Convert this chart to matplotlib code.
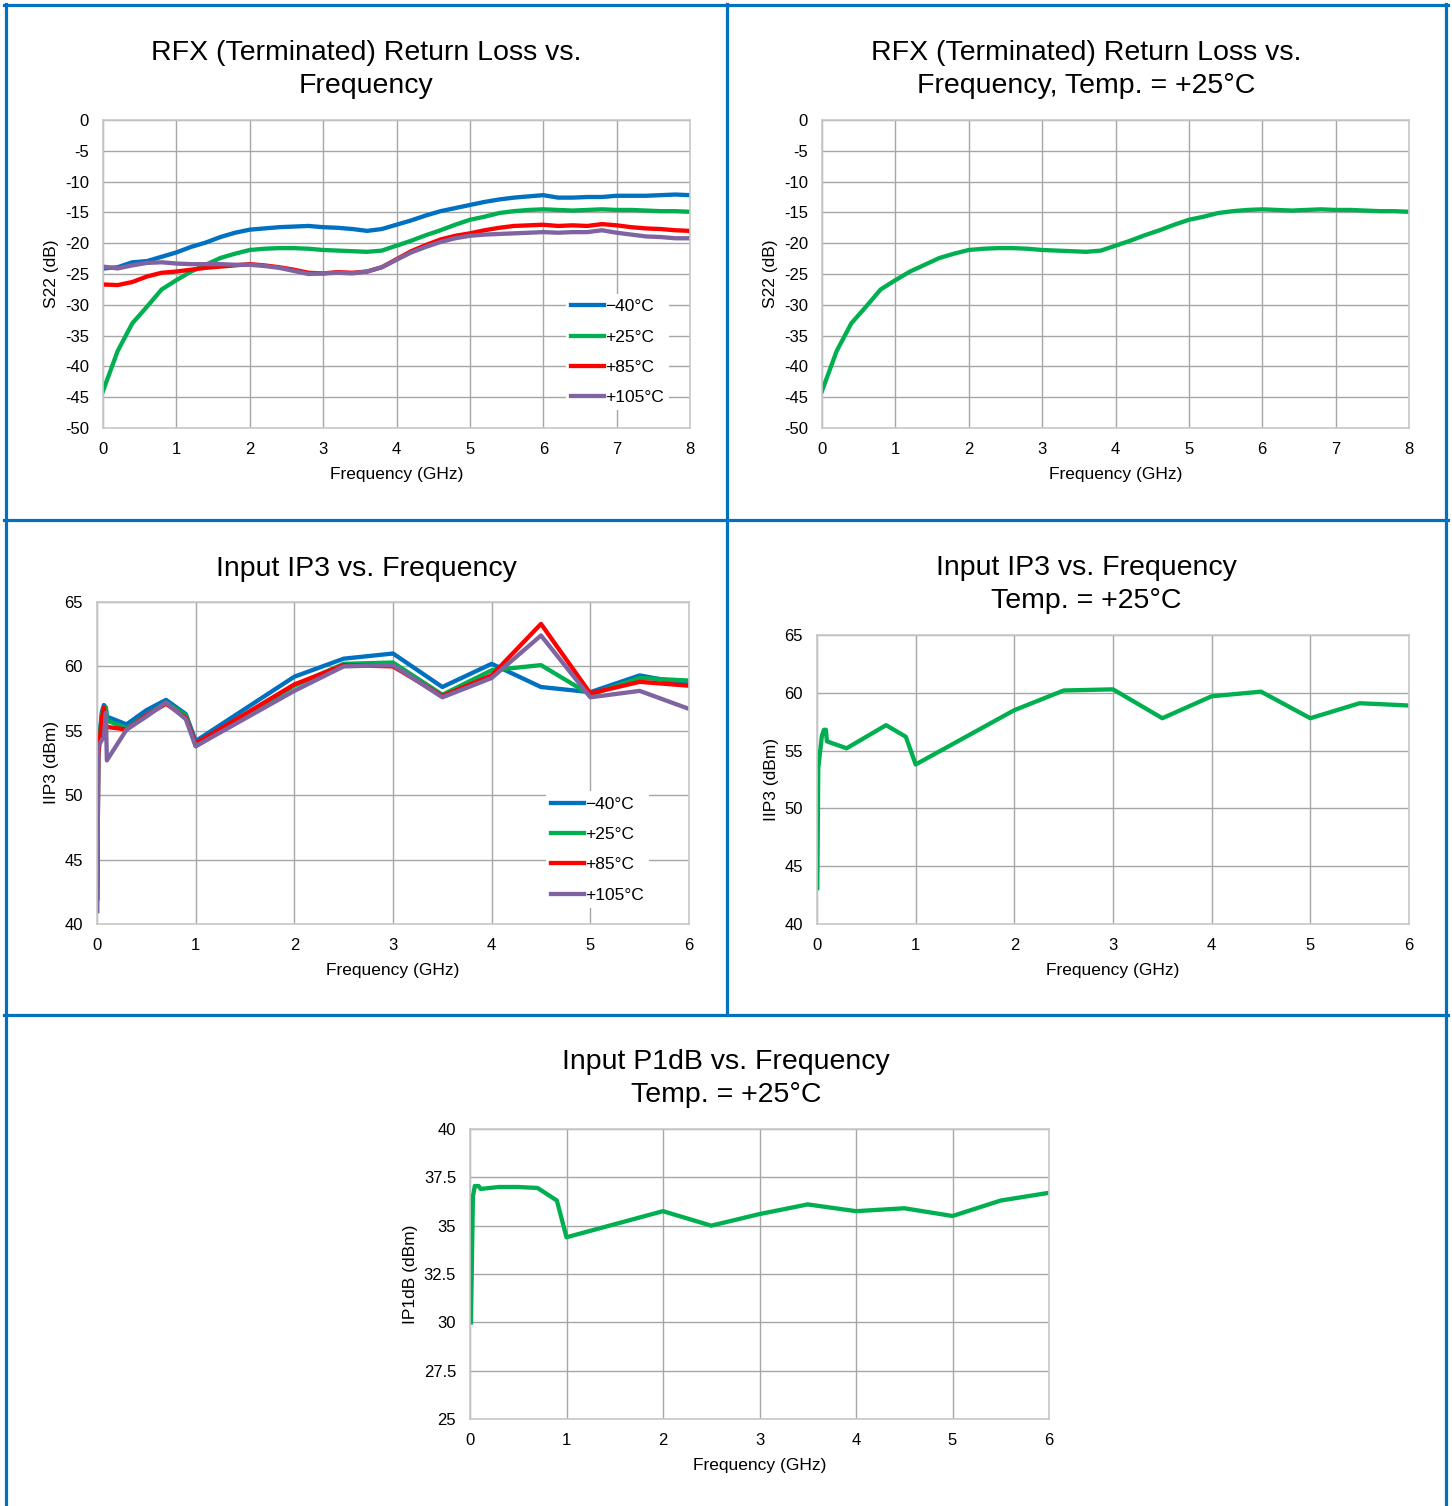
import matplotlib.pyplot as plt
from matplotlib.lines import Line2D

plt.rcParams['font.family'] = ['Liberation Sans', 'DejaVu Sans']

# ---- S22 return loss data (GHz, dB) ----
s22_freq = [0.0, 0.2, 0.4, 0.6, 0.8, 1.0, 1.2, 1.4, 1.6, 1.8, 2.0, 2.2, 2.4, 2.6, 2.8,
            3.0, 3.2, 3.4, 3.6, 3.8, 4.0, 4.2, 4.4, 4.6, 4.8, 5.0, 5.2, 5.4, 5.6, 5.8,
            6.0, 6.2, 6.4, 6.6, 6.8, 7.0, 7.2, 7.4, 7.6, 7.8, 8.0]
s22_m40 = [-24.1, -23.9, -23.1, -22.9, -22.2, -21.5, -20.6, -19.9, -19.0, -18.3, -17.8,
           -17.6, -17.4, -17.3, -17.2, -17.4, -17.5, -17.7, -18.0, -17.7, -17.0, -16.3,
           -15.5, -14.8, -14.3, -13.8, -13.3, -12.9, -12.6, -12.4, -12.2, -12.6, -12.6,
           -12.5, -12.5, -12.3, -12.3, -12.3, -12.2, -12.1, -12.2]
s22_p25 = [-44.0, -37.5, -33.0, -30.3, -27.5, -26.0, -24.6, -23.5, -22.4, -21.7, -21.1,
           -20.9, -20.8, -20.8, -20.9, -21.1, -21.2, -21.3, -21.4, -21.2, -20.4, -19.6,
           -18.7, -17.9, -17.0, -16.2, -15.7, -15.1, -14.8, -14.6, -14.5, -14.6, -14.7,
           -14.6, -14.5, -14.6, -14.6, -14.7, -14.8, -14.8, -14.9]
s22_p85 = [-26.7, -26.8, -26.3, -25.4, -24.8, -24.6, -24.3, -24.0, -23.8, -23.6, -23.4,
           -23.6, -23.9, -24.3, -24.8, -24.9, -24.7, -24.8, -24.6, -23.9, -22.6, -21.3,
           -20.3, -19.4, -18.8, -18.4, -17.9, -17.5, -17.2, -17.1, -17.0, -17.2, -17.1,
           -17.2, -16.9, -17.1, -17.4, -17.6, -17.7, -17.9, -18.0]
s22_p105 = [-23.8, -24.1, -23.6, -23.2, -23.1, -23.3, -23.4, -23.4, -23.4, -23.5, -23.5,
            -23.7, -24.0, -24.5, -25.0, -24.9, -24.8, -24.9, -24.6, -23.9, -22.7, -21.5,
            -20.6, -19.8, -19.2, -18.8, -18.6, -18.5, -18.4, -18.3, -18.2, -18.3, -18.2,
            -18.2, -17.9, -18.3, -18.6, -18.9, -19.0, -19.2, -19.2]

# ---- Input IP3 data (GHz, dBm) ----
ip3_freq = [0.003, 0.013, 0.05, 0.07, 0.09, 0.1, 0.3, 0.5, 0.7, 0.9, 1.0,
            2.0, 2.5, 3.0, 3.5, 4.0, 4.5, 5.0, 5.5, 6.0]
ip3_m40 = [42.0, 53.5, 56.5, 57.0, 56.8, 56.1, 55.5, 56.6, 57.4, 56.3, 54.2,
           59.2, 60.6, 61.0, 58.4, 60.2, 58.4, 58.0, 59.3, 58.6]
ip3_p25 = [43.1, 53.5, 56.3, 56.8, 56.8, 55.8, 55.2, 56.2, 57.2, 56.2, 53.8,
           58.5, 60.2, 60.3, 57.8, 59.7, 60.1, 57.8, 59.1, 58.9]
ip3_p85 = [42.0, 53.0, 56.0, 56.8, 55.5, 55.3, 55.1, 56.2, 57.1, 56.0, 54.0,
           58.6, 60.1, 60.0, 57.7, 59.3, 63.3, 57.9, 58.8, 58.5]
ip3_p105 = [41.0, 53.8, 54.3, 54.5, 56.4, 52.7, 55.1, 56.1, 57.2, 55.9, 53.8,
            58.1, 60.0, 60.1, 57.6, 59.1, 62.4, 57.6, 58.1, 56.7]

# ---- Input P1dB data (GHz, dBm) ----
p1db_freq = [0.01, 0.03, 0.05, 0.09, 0.11, 0.3, 0.5, 0.7, 0.9, 1.0,
             2.0, 2.5, 3.0, 3.5, 4.0, 4.5, 5.0, 5.5, 6.0]
p1db_p25 = [30.0, 36.5, 37.05, 37.05, 36.9, 37.0, 37.0, 36.95, 36.3, 34.4,
            35.75, 35.0, 35.6, 36.1, 35.75, 35.9, 35.5, 36.3, 36.7]

temp_labels = ['\u221240°C', '+25°C', '+85°C', '+105°C']
colors = ['#0070C0', '#00B050', '#FF0000', '#8064A2']

W, H = 1452, 1506
fig = plt.figure(figsize=(W / 100, H / 100), dpi=100)

LW = 3.1
TICK_FS = 12
LABEL_FS = 12.5
TITLE_FS = 20.5


def px_axes(l, t, r, b):
    return fig.add_axes([l / W, 1 - b / H, (r - l) / W, (b - t) / H])


def style(ax, xlim, xstep, ylim, ystep, ylabel):
    ax.set_xlim(*xlim)
    ax.set_ylim(*ylim)
    xt = [xlim[0] + i * xstep for i in range(int(round((xlim[1] - xlim[0]) / xstep)) + 1)]
    yt = [ylim[0] + i * ystep for i in range(int(round((ylim[1] - ylim[0]) / ystep)) + 1)]
    ax.set_xticks(xt)
    ax.set_yticks(yt)
    ax.set_xticklabels([f'{v:g}' for v in xt])
    ax.set_yticklabels([f'{v:g}' for v in yt])
    ax.grid(True, color='#A6A6A6', linewidth=1.0)
    ax.set_axisbelow(True)
    for s in ax.spines.values():
        s.set_color('#C8C8C8')
        s.set_linewidth(1.2)
    ax.tick_params(length=0, labelsize=TICK_FS)
    ax.tick_params(axis='x', pad=10)
    ax.tick_params(axis='y', pad=10)
    ax.set_xlabel('Frequency (GHz)', fontsize=LABEL_FS, labelpad=7)
    ax.set_ylabel(ylabel, fontsize=LABEL_FS, labelpad=4)


def add_legend(ax, x, y):
    leg = ax.legend(loc='center', bbox_to_anchor=(x, y), fontsize=LABEL_FS,
                    handlelength=1.9, handletextpad=0.05, labelspacing=0.87,
                    borderpad=0.3, frameon=True, fancybox=False)
    leg.get_frame().set_edgecolor('none')
    leg.get_frame().set_facecolor('white')
    leg.get_frame().set_alpha(1)


# panel 1: S22 vs temperature
ax1 = px_axes(103, 120, 690, 428)
for vals, c, lab in zip([s22_m40, s22_p25, s22_p85, s22_p105], colors, temp_labels):
    ax1.plot(s22_freq, vals, color=c, lw=LW, label=lab)
style(ax1, (0, 8), 1, (-50, 0), 5, 'S22 (dB)')
add_legend(ax1, 0.876, 0.246)

# panel 2: S22 at +25C
ax2 = px_axes(822, 120, 1409, 428)
ax2.plot(s22_freq, s22_p25, color=colors[1], lw=LW)
style(ax2, (0, 8), 1, (-50, 0), 5, 'S22 (dB)')

# panel 3: IIP3 vs temperature
ax3 = px_axes(97, 602, 689, 924)
for vals, c, lab in zip([ip3_m40, ip3_p25, ip3_p85, ip3_p105], colors, temp_labels):
    ax3.plot(ip3_freq, vals, color=c, lw=LW, label=lab)
style(ax3, (0, 6), 1, (40, 65), 5, 'IIP3 (dBm)')
add_legend(ax3, 0.845, 0.231)

# panel 4: IIP3 at +25C
ax4 = px_axes(817, 635, 1409, 924)
ax4.plot(ip3_freq, ip3_p25, color=colors[1], lw=LW)
style(ax4, (0, 6), 1, (40, 65), 5, 'IIP3 (dBm)')

# panel 5: P1dB at +25C
ax5 = px_axes(470, 1129, 1049, 1419)
ax5.plot(p1db_freq, p1db_p25, color=colors[1], lw=LW)
style(ax5, (0, 6), 1, (25, 40), 2.5, 'IP1dB (dBm)')

# titles
titles = [
    (366, 69.5, 'RFX (Terminated) Return Loss vs.\nFrequency'),
    (1086, 69.5, 'RFX (Terminated) Return Loss vs.\nFrequency, Temp. = +25°C'),
    (366, 569, 'Input IP3 vs. Frequency'),
    (1086, 584.5, 'Input IP3 vs. Frequency\nTemp. = +25°C'),
    (726, 1078.5, 'Input P1dB vs. Frequency\nTemp. = +25°C'),
]
for x, y, t in titles:
    fig.text(x / W, 1 - y / H, t, ha='center', va='center', fontsize=TITLE_FS,
             linespacing=1.36)

# blue panel borders
bc = '#0070C0'
blw = 2.3
segs = [
    ((5.5, 5.5), (4, H)),
    ((1446, 1446), (4, H)),
    ((4, 1448), (4.5, 4.5)),
    ((4, 1448), (519.5, 519.5)),
    ((4, 1448), (1014.5, 1014.5)),
    ((726.5, 726.5), (4, 1014.5)),
]
for xs, ys in segs:
    fig.add_artist(Line2D([x / W for x in xs], [1 - y / H for y in ys],
                          color=bc, lw=blw, transform=fig.transFigure))

fig.savefig('out.png', dpi=100)
